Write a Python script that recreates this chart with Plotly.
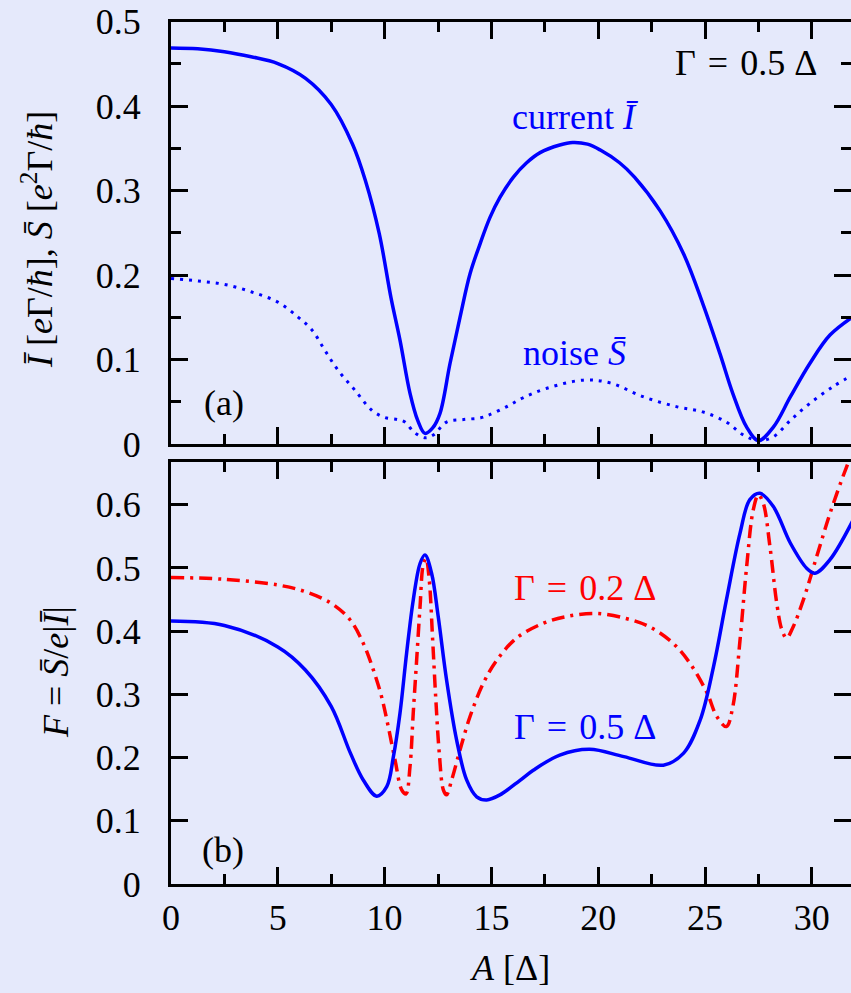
import plotly.graph_objects as go

# ---------------- data ----------------
A_I = [0, 1.25, 2.5, 3.75, 5, 6.3, 7.5, 8.5, 9.1, 9.75, 10.3, 10.72, 11.19, 11.55, 11.89, 12.25, 12.59, 13.06,
       13.53, 14.0, 14.47, 14.93, 15.4, 16.03, 16.65, 17.28, 18.2, 18.8, 19.5, 20.1, 21.0, 21.7, 22.9, 24.0, 24.9,
       25.7, 26.3, 26.95, 27.5, 28.2, 29.0, 29.9, 30.85, 32]
I_cur = [0.469, 0.468, 0.4645, 0.4585, 0.4505, 0.433, 0.402, 0.355, 0.312, 0.249, 0.173, 0.123, 0.060, 0.028,
         0.0126, 0.019, 0.036, 0.095, 0.150, 0.2016, 0.237, 0.268, 0.292, 0.316, 0.333, 0.345, 0.354, 0.357,
         0.355, 0.348, 0.333, 0.316, 0.276, 0.225, 0.166, 0.107, 0.060, 0.020, 0.004, 0.020, 0.056, 0.095, 0.129,
         0.152]

A_S = [0, 1.28, 2.5, 3.78, 5, 5.96, 6.6, 7.2, 7.83, 8.6, 9.4, 10.0, 10.6, 10.95, 11.4, 11.9, 12.3, 12.9, 13.7,
       14.5, 14.9, 15.7, 16.5, 17.6, 19.3, 20.55, 22.1, 23.7, 24.9, 26.0, 26.8, 27.5, 28.2, 29.0, 29.9, 31.0, 32]
S_noise = [0.196, 0.193, 0.189, 0.180, 0.168, 0.150, 0.135, 0.111, 0.087, 0.064, 0.040, 0.0315, 0.029, 0.026,
           0.0135, 0.0073, 0.011, 0.026, 0.029, 0.031, 0.0345, 0.044, 0.055, 0.066, 0.0756, 0.0724, 0.056, 0.044,
           0.038, 0.026, 0.0106, 0.004, 0.0086, 0.028, 0.048, 0.068, 0.083]

A_F5 = [0, 2.5, 5, 6.28, 7.5, 8.4, 9.0, 9.63, 10.1, 10.41, 10.72, 11.03, 11.34, 11.66, 11.89, 12.2, 12.51, 12.9,
        13.37, 13.84, 14.31, 14.78, 15.4, 16.34, 16.96, 18.2, 19.6, 21.2, 23.05, 24.0, 24.77, 25.4, 26.0, 26.64,
        27.1, 27.57, 28.2, 29.0, 29.76, 30.15, 30.85, 32]
F5 = [0.416, 0.409, 0.375, 0.339, 0.281, 0.207, 0.1646, 0.139, 0.154, 0.201, 0.270, 0.365, 0.449, 0.507, 0.5206,
      0.4916, 0.423, 0.323, 0.228, 0.1646, 0.138, 0.133, 0.141, 0.164, 0.180, 0.204, 0.213, 0.2015, 0.188, 0.207,
      0.259, 0.344, 0.449, 0.555, 0.608, 0.618, 0.597, 0.539, 0.4995, 0.4916, 0.513, 0.58]

A_F2 = [0, 2.5, 5, 6.28, 7.5, 8.38, 9.0, 9.47, 9.86, 10.17, 10.49, 10.8, 11.0, 11.19, 11.34, 11.5, 11.66, 11.81,
        11.94, 12.09, 12.25, 12.4, 12.56, 12.75, 12.9, 13.14, 13.53, 14.0, 14.62, 15.25, 16.18, 17.43, 18.5, 19.9,
        21.3, 22.4, 23.5, 24.3, 25.1, 25.55, 26.0, 26.3, 26.64, 26.95, 27.26, 27.5, 27.73, 28.04, 28.36, 28.6,
        28.82, 29.13, 29.6, 30.23, 30.85, 31.63, 32]
F2 = [0.485, 0.482, 0.473, 0.4625, 0.444, 0.418, 0.381, 0.339, 0.296, 0.249, 0.196, 0.149, 0.1424, 0.186, 0.270,
      0.354, 0.439, 0.505, 0.515, 0.481, 0.386, 0.291, 0.207, 0.149, 0.141, 0.1646, 0.212, 0.265, 0.3175, 0.354,
      0.389, 0.4125, 0.423, 0.428, 0.420, 0.407, 0.381, 0.349, 0.302, 0.265, 0.249, 0.28, 0.386, 0.502, 0.592,
      0.6155, 0.602, 0.534, 0.444, 0.402, 0.389, 0.407, 0.449, 0.518, 0.586, 0.660, 0.69]

x_ticks = [0, 5, 10, 15, 20, 25, 30]
x_ticktext = ["0", "5", "10", "15", "20", "25", "30"]
ya_ticks = [0, 0.1, 0.2, 0.3, 0.4, 0.5]
ya_ticktext = ["0", "0.1", "0.2", "0.3", "0.4", "0.5"]
yb_ticks = [0, 0.1, 0.2, 0.3, 0.4, 0.5, 0.6]
yb_ticktext = ["0", "0.1", "0.2", "0.3", "0.4", "0.5", "0.6"]

# ---------------- style ----------------
BG = "#e5e9fb"
BLUE = "#0000ff"
RED = "#ff0000"
FONT = "Liberation Serif"
FS = 36
W, H = 851, 993
SM = 1.0

fig = go.Figure()
fig.add_trace(go.Scatter(x=A_I, y=I_cur, mode="lines", xaxis="x", yaxis="y",
                         line=dict(color=BLUE, width=3.5, shape="spline", smoothing=SM)))
fig.add_trace(go.Scatter(x=A_S, y=S_noise, mode="lines", xaxis="x", yaxis="y",
                         line=dict(color=BLUE, width=3, dash="3px,6px", shape="spline", smoothing=SM)))
fig.add_trace(go.Scatter(x=A_F2, y=F2, mode="lines", xaxis="x2", yaxis="y2",
                         line=dict(color=RED, width=3.5, dash="13px,6px,3px,6px", shape="spline", smoothing=SM)))
fig.add_trace(go.Scatter(x=A_F5, y=F5, mode="lines", xaxis="x2", yaxis="y2",
                         line=dict(color=BLUE, width=3.5, shape="spline", smoothing=SM)))

xdom = [171 / W, 1.0]
xrange_ = [0, (W - 171) / 21.36]
common = dict(showline=True, linecolor="black", linewidth=3, mirror="allticks", ticks="inside",
              ticklen=17, tickwidth=3, tickcolor="black", showgrid=False, zeroline=False, automargin=False,
              tickfont=dict(family=FONT, size=FS, color="black"))
minor_x = dict(dtick=2.5, ticks="inside", ticklen=10, tickwidth=3, tickcolor="black", showgrid=False)

fig.update_layout(
    template="none",
    width=W, height=H, margin=dict(l=0, r=0, t=0, b=0, autoexpand=False),
    paper_bgcolor=BG, plot_bgcolor=BG, showlegend=False,
    xaxis=dict(domain=xdom, range=xrange_, anchor="y", tickvals=x_ticks, showticklabels=False,
               minor=minor_x, **common),
    yaxis=dict(domain=[1 - 444 / H, 1 - 21.7 / H], range=[0, 0.5], anchor="x", tickvals=ya_ticks,
               ticktext=ya_ticktext, ticklabelstandoff=20,
               minor=dict(dtick=0.05, ticks="inside", ticklen=10, tickwidth=3, tickcolor="black", showgrid=False),
               **common),
    xaxis2=dict(domain=xdom, range=xrange_, anchor="y2", tickvals=x_ticks, ticktext=x_ticktext,
                ticklabelstandoff=0, minor=minor_x, **common),
    yaxis2=dict(domain=[1 - 884 / H, 1 - 461.7 / H], range=[0, 0.668], anchor="x2", tickvals=yb_ticks,
                ticktext=yb_ticktext, ticklabelstandoff=20, **common),
)

def txt(text, x, y, color, xref="x", yref="y", **kw):
    fig.add_annotation(text=text, x=x, y=y, xref=xref, yref=yref, showarrow=False,
                       xanchor="center", yanchor="middle",
                       font=dict(family=FONT, size=FS, color=color), **kw)

G05 = "Γ\u2004=\u20040.5\u2005Δ"
G02 = "Γ\u2004=\u20040.2\u2005Δ"
txt(G05, 26.9, 0.4515, "black")
txt("current <i>I\u0304</i>", 18.9, 0.3866, BLUE)
txt("noise <i>S\u0304</i>", 18.9, 0.1075, BLUE)
txt("(a)", 2.48, 0.048, "black")
txt("(b)", 2.43, 0.054, "black", xref="x2", yref="y2")
txt(G02, 19.4, 0.468, RED, xref="x2", yref="y2")
txt(G05, 19.4, 0.249, BLUE, xref="x2", yref="y2")

# axis titles
txt("<i>I\u0304</i> [<i>e</i>Γ/<i>ħ</i>], <i>S\u0304</i> [<i>e</i><sup>2</sup>Γ/<i>ħ</i>]",
    37 / W, 1 - 240 / H, "black", xref="paper", yref="paper", textangle=-90)
txt("<i>F</i> = <i>S\u0304</i>/<i>e</i>|<i>I\u0304</i>|", 56 / W, 1 - 672 / H, "black",
    xref="paper", yref="paper", textangle=-90)
txt("<i>A</i> [Δ]", 510 / W, 1 - 968 / H, "black", xref="paper", yref="paper")

fig.write_html("out.html")
